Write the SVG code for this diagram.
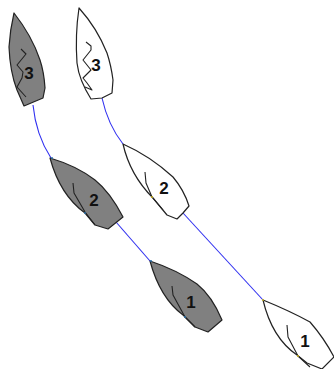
<svg xmlns="http://www.w3.org/2000/svg" width="334" height="369" viewBox="0 0 334 369">
<style>
.hull{stroke:#222;stroke-width:1.2;stroke-linejoin:round}
.gray{fill:#808080}
.white{fill:#fff}
.sail{fill:none;stroke:#222;stroke-width:1.1;stroke-linejoin:round}
.conn{fill:none;stroke:#3030f0;stroke-width:1.1}
text{font-family:"Liberation Sans",Arial,sans-serif;font-size:17px;font-weight:bold;fill:#111;text-anchor:middle}
</style>
<rect width="334" height="369" fill="#fff"/>
<g id="connectors">
<path class="conn" d="M33 105Q36 135 51 158"/>
<path class="conn" d="M116 222L150 261"/>
<path class="conn" d="M102 98Q108 125 123 144"/>
<path class="conn" d="M183 213L263 300"/>
</g>
<g id="boat-gray-3">
<path class="hull gray" d="M14 13Q10 30 9 47Q10 72 17 90L24 106L43 98L45 88Q44 72 40 60Q32 36 14 13Z"/>
<path class="sail" d="M21 49L26 54L17 65L23 72L22 78L17 87L26 97"/>
<text x="29" y="79">3</text>
</g>
<g id="boat-white-3">
<path class="hull white" d="M79 8Q75 35 77 63Q79 80 91 99L102 98L112 93L113 80Q111 65 107 53Q97 28 79 8Z"/>
<path class="sail" d="M86 42L91 46L91 50L83 60L91 70L83 78L87 83L92 90L85 87"/>
<text x="96" y="71">3</text>
</g>
<g id="boat-gray-2">
<path class="hull gray" d="M50 158Q77 166 95 180Q110 192 123 217L108 229L95 225L85 213Q60 195 50 158Z"/>
<path class="sail" d="M73 183L74 193L85 212L95 225"/>
<circle cx="52" cy="158" r="1" fill="#2a6fa8"/>
<circle cx="85" cy="213" r="1" fill="#2a6fa8"/>
<text x="94" y="206">2</text>
</g>
<g id="boat-white-2">
<path class="hull white" d="M123 144Q150 156 173 177Q184 190 189 206L183 213L177 219L167 215L153 198Q130 175 123 144Z"/>
<path class="sail" d="M145 172L146 183L152 197L163 210"/>
<circle cx="152" cy="197" r="1" fill="#c8b020"/>
<text x="164" y="194">2</text>
</g>
<g id="boat-gray-1">
<path class="hull gray" d="M150 261Q177 270 197 284Q212 296 222 320L208 332L195 327L183 315Q160 298 150 261Z"/>
<path class="sail" d="M172 286L173 295L185 317L195 327"/>
<circle cx="151" cy="261" r="1" fill="#2a6fa8"/>
<circle cx="185" cy="317" r="1" fill="#2a6fa8"/>
<text x="191" y="308">1</text>
</g>
<g id="boat-white-1">
<path class="hull white" d="M263 300Q290 311 310 322Q324 338 334 357L322 369L307 363L297 355Q272 338 263 300Z"/>
<path class="sail" d="M287 325L288 337L298 356L310 367"/>
<circle cx="263" cy="300" r="1" fill="#c8b020"/>
<circle cx="298" cy="356" r="1" fill="#c8b020"/>
<text x="305" y="347">1</text>
</g>
</svg>
